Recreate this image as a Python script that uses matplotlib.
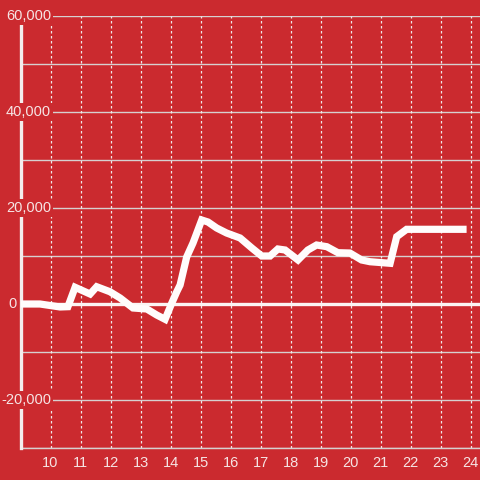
import matplotlib
matplotlib.use('Agg')
import matplotlib.pyplot as plt

# Series (x = hour of day, y = value)
hours = [9.0, 9.65, 10.32, 10.58, 10.82, 11.32, 11.54, 11.98, 12.32, 12.75,
         13.21, 13.54, 13.82, 14.04, 14.21, 14.32, 14.54, 14.75, 15.04, 15.25,
         15.54, 15.87, 16.32, 16.71, 17.04, 17.32, 17.58, 17.82, 18.25, 18.58,
         18.87, 19.21, 19.58, 19.98, 20.37, 20.65, 21.32, 21.54, 21.87, 23.87]
values = [0, 0, -620, -560, 3480, 2080, 3600, 2560, 1250, -830,
          -1040, -2290, -3190, 150, 2560, 3960, 9800, 12700, 17500, 17080,
          15830, 14790, 13750, 11670, 10000, 10000, 11460, 11250, 9170, 11250,
          12290, 11940, 10690, 10620, 9170, 8810, 8480, 14020, 15560, 15560]

x_ticks = list(range(10, 25))
y_ticks = [-20000, 0, 20000, 40000, 60000]
y_labels = ['-20,000', '0', '20,000', '40,000', '60,000']

bg = '#cb2a2f'
txt = '#f6e4e4'

plt.rcParams['font.family'] = ['Liberation Sans', 'DejaVu Sans']

fig = plt.figure(figsize=(4.8, 4.8), dpi=100, facecolor=bg)
ax = fig.add_axes([20.5 / 480, 32 / 480, 459.5 / 480, 432 / 480], facecolor=bg)

ax.set_xlim(9, 9 + 459.5 / 30)
ax.set_ylim(-30000, 60000)

# grid
for yv in range(-30000, 60001, 10000):
    ax.axhline(yv, color='#d6d0d0', lw=1, zorder=1)
for xv in x_ticks:
    ax.axvline(xv, color='#f0e8e8', lw=0.9, ls=(0, (2, 2)), zorder=1)
ax.axhline(0, color='#fbf3f3', lw=2.4, zorder=2)

ax.plot(hours, values, color='#fffcfc', lw=5.2, solid_joinstyle='miter',
        solid_capstyle='butt', zorder=4)

for s in ['top', 'right']:
    ax.spines[s].set_visible(False)
ax.spines['left'].set_color('#f4eded')
ax.spines['left'].set_linewidth(2.4)
ax.spines['left'].set_zorder(3)
ax.spines['bottom'].set_color('#d6d0d0')
ax.spines['bottom'].set_linewidth(1)

ax.set_xticks(x_ticks)
ax.set_xticklabels([str(t) for t in x_ticks])
ax.tick_params(axis='x', length=0, pad=6, colors=txt, labelsize=10.5)
ax.set_yticks([])

# y labels sit over the axis with a red box behind them
trans = ax.get_yaxis_transform()
for yv, lab in zip(y_ticks, y_labels):
    if lab == '0':
        xa, ha = (8 - 20.5) / 459.5, 'left'
    else:
        xa, ha = (51 - 20.5) / 459.5, 'right'
    ax.text(xa, yv, lab, transform=trans, ha=ha, va='center', color=txt,
            fontsize=10.5, zorder=6, clip_on=False,
            bbox=dict(facecolor=bg, edgecolor='none', pad=1.5))

fig.savefig('out.png', dpi=100, facecolor=bg)
